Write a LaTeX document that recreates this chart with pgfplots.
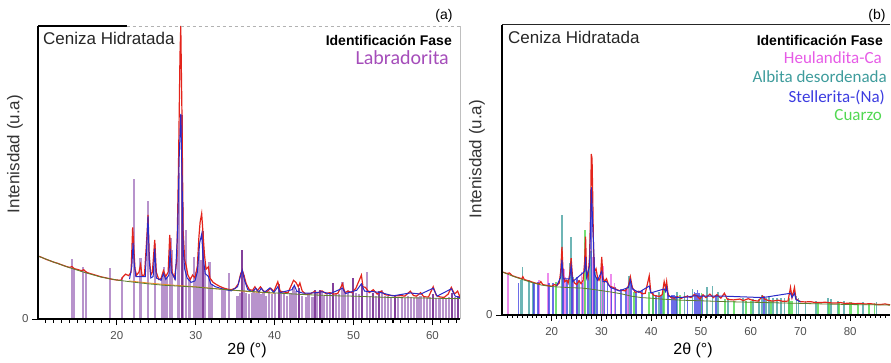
\documentclass[border=0pt]{standalone}
\usepackage{pgfplots}
\pgfplotsset{compat=1.18}
\usepackage{fontspec}
\setmainfont{Liberation Sans}
\newfontfamily\calib{Carlito}
\definecolor{obsred}{HTML}{E3241B}
\definecolor{calcblue}{HTML}{2A2AC8}
\definecolor{bggreen}{HTML}{5E7E2E}
\definecolor{bgorange}{HTML}{F08A24}
\definecolor{labpurple}{HTML}{A678BF}
\definecolor{labdark}{HTML}{6D1F8A}
\definecolor{labtext}{HTML}{A54DBA}
\definecolor{heul}{HTML}{E65BE6}
\definecolor{albita}{HTML}{3E9C9C}
\definecolor{stell}{HTML}{3C3CE0}
\definecolor{cuarzo}{HTML}{52D852}
\definecolor{ticklab}{HTML}{505050}
\pgfplotsset{
  xrdaxis/.style={
    scale only axis, anchor=south west,
    ymin=0, ymax=100,
    axis line style={draw=none},
    xtick pos=bottom, ytick pos=left,
    ytick={0}, yticklabels={0},
    tick align=outside,
    major tick length=6pt, minor tick length=3.5pt,
    xtick style={draw=black, line width=1pt},
    ytick style={draw=black, line width=1pt},
    minor x tick num=9,
    xticklabel style={font=\fontsize{11.5}{13}\selectfont, text=ticklab, yshift=-3pt},
    yticklabel style={font=\fontsize{11.5}{13}\selectfont, text=ticklab},
    clip mode=individual,
  },
  /pgf/number format/assume math mode=true,
}
\begin{document}
\begin{tikzpicture}
\path[use as bounding box] (0pt,0pt) rectangle (891pt,362pt);
% ---------------- panel (a)
\begin{axis}[xrdaxis, at={(38pt,43pt)}, width=422pt, height=293pt,
  xmin=10, xmax=63.5, xtick={20,30,40,50,60}]
\addplot[ycomb, labpurple, opacity=0.8, line width=2.2pt] table {
x y
14.3 20.4
14.6 17.5
15.7 17.8
16.1 16.5
19.15 17.3
20.6 14.4
22.2 47.7
23.0 20.7
23.95 40.3
24.8 25.6
25.7 14
26.0 17.8
26.3 14.5
26.8 27.5
27.0 23.5
27.7 23.5
27.9 50
28.35 40
28.75 30.4
29.2 14
29.75 21
30.1 16
30.4 23
30.6 20
31.2 18
31.75 19.6
32.0 12
33.4 9.9
33.75 9.9
34.2 15.6
35.3 8
35.6 9
36.1 15
36.4 9
36.8 8.5
37.1 9
37.4 10
37.7 9
38.0 9.5
38.3 8.5
38.6 9
38.9 8
39.3 9.5
39.7 8.5
40.0 9
40.8 9
41.2 8.5
41.6 8
42.0 9
42.4 11
42.7 9.5
43.5 8
44.0 7.5
44.3 9
44.8 7.5
45.4 9
46.0 9.5
46.3 8
46.6 9
47.0 8.5
47.8 9
48.2 8.5
48.6 12.5
48.9 9
49.3 10
50.3 9
50.7 8.5
51.7 16.1
52.1 8
52.8 8
53.6 10
54.0 8
54.4 8
54.8 7.5
55.6 7
56.1 7.5
56.5 7
56.9 8
57.3 7.5
57.7 7
58.1 7.5
58.5 8
58.9 7.5
59.3 7
59.7 7.5
60.5 7
60.9 7
61.3 7.5
61.7 7
62.1 7.5
62.9 7.5
};
\addplot[ycomb, labdark, opacity=0.85, line width=2pt] table {
x y
28.2 69.6
30.9 30
35.9 23.5
40.5 12
43.1 10.5
45.1 10
45.7 10
47.4 12.4
49.9 14
51.1 12
52.5 9
53.2 9.5
55.2 8
60.1 8.5
62.5 9
63.3 8
};
\addplot[bgorange, line width=0.8pt] table {
x y
21.5 13.0
24 12.3
26 11.8
28 11.4
30 11.0
32 10.5
34 10.0
36 9.5
38 9.1
40 8.8
};
\addplot[obsred, line width=1.2pt] table {
x y
10.0 21.5
10.5 21.0
11.0 20.4
11.5 19.9
12.0 19.4
12.5 19.0
13.0 18.5
13.5 18.0
14.0 17.6
14.3 17.9
14.6 17.2
15.0 16.9
15.5 16.5
15.8 16.8
16.1 16.0
16.5 15.6
17.0 15.2
17.5 14.8
18.0 14.4
18.5 14.1
19.0 13.8
19.5 13.5
20.0 13.3
20.5 13.2
20.8 14.5
21.1 15.3
21.5 14.8
21.8 16.0
22.0 31.3
22.15 24
22.3 17
22.5 15.0
22.8 16.0
23.0 18.5
23.2 14.8
23.5 15.0
23.8 28.0
23.95 35.5
24.1 22
24.3 15.0
24.5 16
24.8 27.0
25.0 16
25.3 13.5
25.6 13.8
25.9 16.5
26.2 14.5
26.5 16
26.7 28.7
26.85 22
27.0 16
27.3 14
27.6 20
27.8 50
28.0 90
28.1 100
28.25 70
28.4 30
28.6 20
28.8 18
29.0 15
29.3 13.5
29.6 15
29.9 14
30.2 18
30.4 28
30.55 33
30.75 36
30.9 30
31.1 22
31.3 17
31.6 17.8
31.8 14
32.2 12.5
32.6 11.8
33.0 11.2
33.5 10.6
34.0 10.2
34.5 10.0
35.0 10.5
35.4 12
35.7 15.5
35.9 16.7
36.1 15
36.4 12
36.8 10
37.2 9.8
37.5 11
37.8 9.6
38.2 11
38.6 9.5
39.0 9.3
39.5 10.5
39.9 9.4
40.4 12.7
40.7 9.5
41.2 9.2
41.7 9.0
42.2 12
42.4 13.2
42.7 12.5
43.0 11
43.2 12.3
43.5 9.5
44.0 8.4
44.5 8.6
45.0 9.3
45.5 8.9
46.0 9.6
46.5 8.7
47.0 9.0
47.5 8.5
48.0 8.7
48.6 12
48.9 9
49.3 9.5
49.8 9.0
50.3 10.5
51.0 15
51.2 11
51.5 10.8
52.0 9
52.5 10
53.0 8.5
53.5 9.5
54.0 8.3
54.5 8.1
55.0 8.0
55.5 7.9
56.0 8.0
56.5 7.8
57.2 9.5
57.6 8
58.0 7.8
58.5 9
58.9 7.6
59.5 7.5
60.1 11
60.5 8
61.0 7.5
61.5 7.4
62.0 8.5
62.4 10.8
62.8 8.5
63.2 9.5
63.5 7.5
};
\addplot[calcblue, line width=1.0pt] table {
x y
21.6 13.6
21.9 18
22.05 26
22.2 19
22.4 14.5
23.6 14.5
23.8 26
23.95 35
24.1 20
24.3 14
24.6 14.5
24.8 24
25.0 14
25.6 13.2
25.9 15.5
26.2 13.5
26.6 15
26.75 24
26.9 16
27.4 13.5
27.7 30
27.9 55
28.1 70
28.25 50
28.4 24
28.6 17
28.9 14
29.4 12.5
29.9 13
30.2 16
30.5 26
30.75 29
30.9 22
31.2 15.5
31.6 14.5
31.9 12
32.5 11
33.5 10.2
34.5 9.6
35.3 11
35.7 15
35.9 16.7
36.2 13
36.6 10
37.2 9.3
37.6 10.5
38.0 9.2
38.3 10.5
38.7 9.1
39.4 10.6
39.9 9
40.4 11
40.7 9
42.2 10
42.5 11.5
42.8 9.5
43.6 8.8
45.0 8.9
46.0 9.3
47.0 8.6
48.6 10.5
49.0 8.7
50.4 9.8
51.0 12
51.4 9.5
52.6 9.3
53.5 9
55.0 7.9
57.2 8.9
58.5 8.5
60.1 10.5
60.6 7.8
62.4 10.3
62.9 7.8
63.5 7.3
};
\addplot[bggreen, line width=0.8pt] table {
x y
10 21.5
12 19.4
14 17.5
16 15.8
18 14.3
20 13.3
22 12.6
24 12.0
26 11.5
28 11.2
30 10.9
32 10.4
34 10.0
36 9.6
38 9.2
40 8.9
42 8.6
44 8.3
46 8.1
48 7.9
50 7.8
52 7.6
54 7.4
56 7.3
58 7.2
60 7.1
62 7.0
63.5 7.0
};
\draw[black, line width=1.2pt] (rel axis cs:0,1) -- (rel axis cs:0.21,1);
\draw[gray!60, line width=0.8pt, dashed] (rel axis cs:0.21,1) -- (rel axis cs:1,1);
\draw[gray!50, line width=0.8pt] (rel axis cs:1,0) -- (rel axis cs:1,1);
\pgfplotsinvokeforeach{11,...,63}{\draw[black, line width=0.8pt] (axis cs:#1,0) -- ++(0pt,-3.5pt);}
\pgfplotsinvokeforeach{20,30,...,60}{\draw[black, line width=1pt] (axis cs:#1,0) -- ++(0pt,-6pt);}
\draw[black, line width=1pt] (axis cs:10,0) -- ++(-5pt,0pt);
\draw[black, line width=1.4pt] (rel axis cs:0,1) -- (rel axis cs:0,0) -- (rel axis cs:1,0);
\end{axis}
% ---------------- panel (b)
\begin{axis}[xrdaxis, at={(502pt,47pt)}, width=388pt, height=290pt,
  xmin=10, xmax=88, xtick={20,30,40,50,60,70,80}]
\addplot[ycomb, albita, opacity=0.75, line width=1.8pt] table {
x y
13.8 12
14.1 16.6
15.4 12
16.3 11.5
22.05 34.5
23.6 18
23.95 27
24.3 13
25.5 12
27.6 23
27.95 22
28.7 15
29.8 13
30.3 12
35.6 13.5
41.6 8
42.4 8
45.1 8
46.7 8
48.3 9
51.2 9.5
52.3 10
53.5 8
55.5 6
58.4 6
60.5 5.5
61.6 5.5
62.3 7
63.0 6
63.7 6.5
64.5 6
65.3 5.8
66.1 5.7
66.8 6
67.7 6
69.2 6.5
69.6 6
71.0 5
73.2 5
75.5 6
76.2 5.5
77.5 5
78.7 5
82.5 4.6
85.3 4.5
};
\addplot[ycomb, heul, opacity=0.7, line width=1.8pt] table {
x y
11.2 14.5
17.5 12
19.2 14.5
22.4 16
22.7 13
24.2 11
25.1 12
26.0 15
26.5 12
28.3 20
30.0 19.6
30.4 17
31.9 14
32.6 11
35.3 9
};
\addplot[ycomb, stell, opacity=0.75, line width=1.8pt] table {
x y
13.3 11
16.5 11
17.2 11.5
19.5 11
20.2 11
22.2 16
23.1 12
24.1 15
25.0 13
26.2 11
27.3 14
28.0 44
28.5 20
29.1 13
30.6 12
31.2 11
32.0 10
32.8 9.5
34.0 9
35.0 9
35.9 11
37.0 8
38.1 8.5
40.3 7.5
41.0 7
41.9 7
43.3 7.5
44.2 7
44.6 7
45.0 6.5
47.3 7
48.7 8
49.0 7.5
49.3 8.5
49.6 7.5
50.0 6.5
50.3 7
53.0 7
62.6 6.5
};
\addplot[ycomb, cuarzo, opacity=0.8, line width=1.8pt] table {
x y
20.85 11.5
26.65 29.3
36.5 8
39.5 8
40.3 7
42.5 9
45.8 7
50.1 7.5
54.9 5.5
56.7 5
59.1 5
60.0 5
64.0 5
67.7 5.5
68.1 5
68.3 5
73.5 4.5
75.7 4.5
77.7 4.5
79.9 4.5
80.1 4.4
81.5 4.3
83.8 4.2
84.9 4.2
};
\addplot[obsred, line width=1.2pt] table {
x y
10 14.9
11 14.3
11.5 14.5
12 13.6
13 13.0
14 12.5
14.2 13.2
14.5 12.2
15.5 11.7
16.5 11.1
17.5 10.7
17.8 11.5
18.2 10.5
19 10.2
20 9.9
20.5 10.5
21 10.2
21.5 11
21.8 15
22.05 23.5
22.3 14
22.6 11.5
23.0 12
23.3 11
23.6 14
23.9 19.6
24.2 12.5
24.6 11
25.0 10.5
25.5 11.8
25.9 10.8
26.3 12
26.6 18
26.8 27
27.0 15
27.3 13
27.6 20
27.8 35
27.95 55.5
28.1 54
28.25 40
28.4 22
28.6 15
28.9 16
29.2 13
29.5 12
29.8 13
30.05 20
30.3 13
30.6 11.5
31.0 12.5
31.4 10.5
31.8 9.8
32.4 9.5
33.0 8.8
33.6 8.4
34.2 8.5
34.8 8.3
35.4 10
35.8 13.2
36.2 9.5
36.8 7.8
37.5 8.2
38.2 7.3
38.8 7.5
39.4 12
39.6 13.5
39.9 8
40.5 6.8
41.0 6.6
41.6 6.4
42.2 7
42.6 11.5
42.9 9
43.1 11.5
43.4 7
44 6
44.6 5.8
45.3 6.3
46 5.7
46.6 6.2
47.3 6.5
48 6.0
48.6 7
49.2 6.6
49.8 5.5
50.4 7
51 6
51.8 7.2
52.5 6
53.2 7
54 5.8
54.7 7.5
55.3 5.4
56.5 5.2
57.8 5.5
58.5 5.0
59.5 5.6
60.5 5.0
61.5 4.8
62.4 6.5
62.8 5.5
63.5 5.0
64.5 4.8
65.5 5.1
66.5 4.7
67.5 4.8
68.0 9.5
68.3 6
68.8 9.5
69.1 5.5
70 4.6
71 4.5
72 4.6
73 4.3
74 4.3
75 4.4
76 4.2
77 4.1
78 4.3
79 4.0
80 4.1
81 3.9
82 4.0
83 3.8
84 3.9
85 3.7
86 3.6
87 3.8
88 3.5
};
\addplot[calcblue, line width=1.0pt] table {
x y
21.0 10.1
21.8 13
22.05 19
22.3 12.5
23.6 12.5
23.9 17
24.2 11.5
26.6 15
26.8 20
27.0 13
27.6 17
27.8 30
27.95 44
28.1 38
28.25 30
28.4 25
28.6 14
29.2 12
30.05 15
30.3 11.5
31.0 11.5
31.8 9.5
33.6 8.3
35.4 9.5
35.8 12
36.2 9
37.5 7.8
39.6 10
39.9 7.6
42.6 9
42.9 8
43.1 9.5
43.4 6.5
45.3 6
47.3 6.2
48.6 6.6
50.4 6.5
53.2 6.5
54.7 6.5
62.4 6
68.0 7.5
68.3 6
68.8 7.5
69.1 5.3
70 4.5
};
\addplot[bggreen, line width=0.8pt] table {
x y
10 14.9
12 13.5
14 12.3
16 11.2
18 10.3
20 9.8
22 9.6
24 9.4
26 9.3
28 8.9
30 8.4
32 7.9
34 7.3
36 6.5
38 6.0
40 5.8
42 5.5
44 5.3
46 5.1
48 5.0
50 4.9
55 4.6
60 4.4
65 4.2
70 4.0
75 3.8
80 3.6
85 3.5
88 3.4
};
\draw[black!85, line width=1.0pt] (rel axis cs:0,1) -- (rel axis cs:1,1);
\pgfplotsinvokeforeach{11,...,87}{\draw[black, line width=0.7pt] (axis cs:#1,0) -- ++(0pt,-3pt);}
\pgfplotsinvokeforeach{20,30,...,80}{\draw[black, line width=1pt] (axis cs:#1,0) -- ++(0pt,-6pt);}
\draw[black, line width=1pt] (axis cs:10,0) -- ++(-5pt,0pt);
\draw[black, line width=1.4pt] (rel axis cs:0,1) -- (rel axis cs:0,0) -- (rel axis cs:1,0);
\end{axis}
% ---------------- texts
\node[rotate=90, font=\fontsize{17}{20}\selectfont, text=black!80] at (15pt,208pt) {Intenisdad (u.a)};
\node[rotate=90, font=\fontsize{17}{20}\selectfont, text=black!80] at (477pt,203pt) {Intenisdad (u.a)};
\node[font=\fontsize{16}{19}\selectfont] at (247pt,12pt) {2θ (°)};
\node[font=\fontsize{16}{19}\selectfont] at (693pt,12pt) {2θ (°)};
\node[font=\fontsize{14}{17}\selectfont] at (444pt,346pt) {(a)};
\node[font=\fontsize{14}{17}\selectfont] at (877pt,346pt) {(b)};
\node[anchor=west, inner sep=0pt, font=\fontsize{17}{20}\selectfont, text=black!85] at (43pt,324pt) {Ceniza Hidratada};
\node[anchor=west, inner sep=0pt, font=\fontsize{17}{20}\selectfont, text=black!85] at (508pt,325pt) {Ceniza Hidratada};
\node[anchor=east, inner sep=0pt, font=\bfseries\fontsize{14}{17}\selectfont] at (452pt,322pt) {Identificación Fase};
\node[anchor=east, inner sep=0pt, font=\calib\fontsize{20}{24}\selectfont, text=labtext] at (449pt,304pt) {Labradorita};
\node[anchor=east, inner sep=0pt, font=\bfseries\fontsize{14}{17}\selectfont] at (883pt,322pt) {Identificación Fase};
\node[anchor=east, inner sep=0pt, font=\calib\fontsize{17}{20}\selectfont, text=heul] at (882pt,304pt) {Heulandita-Ca};
\node[anchor=east, inner sep=0pt, font=\calib\fontsize{17}{20}\selectfont, text=albita] at (887pt,285pt) {Albita desordenada};
\node[anchor=east, inner sep=0pt, font=\calib\fontsize{17}{20}\selectfont, text=stell] at (885pt,265pt) {Stellerita-(Na)};
\node[anchor=east, inner sep=0pt, font=\calib\fontsize{17}{20}\selectfont, text=cuarzo] at (882pt,247pt) {Cuarzo};
\end{tikzpicture}
\end{document}
